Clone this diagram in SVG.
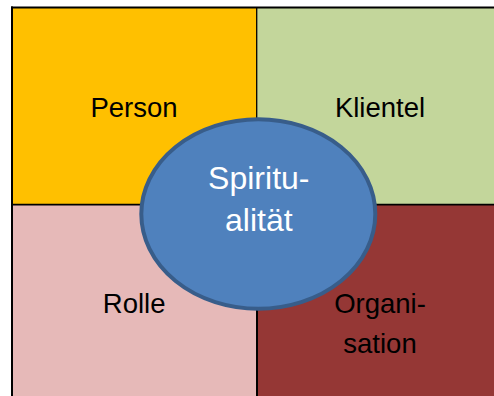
<svg xmlns="http://www.w3.org/2000/svg" width="494" height="396" viewBox="0 0 494 396">
<style>
.lbl{font-family:"Liberation Sans",Arial,sans-serif;font-size:27.5px;fill:#000;text-anchor:middle}
.ctr{font-family:"Liberation Sans",Arial,sans-serif;font-size:32px;fill:#fff;text-anchor:middle}
.ln{stroke:#000;fill:none}
</style>
<rect width="494" height="396" fill="#fff"/>
<g id="person">
<rect x="12" y="7.5" width="245" height="197.2" fill="#FFC000"/>
<text class="lbl" x="134" y="116.7">Person</text>
</g>
<g id="klientel">
<rect x="257" y="7.5" width="237" height="197.2" fill="#C3D69B"/>
<text class="lbl" x="380" y="116.7">Klientel</text>
</g>
<g id="rolle">
<rect x="12" y="204.7" width="245" height="191.3" fill="#E6B9B8"/>
<text class="lbl" x="134.2" y="313.3">Rolle</text>
</g>
<g id="organisation">
<rect x="257" y="204.7" width="237" height="191.3" fill="#953735"/>
<text class="lbl" x="380" y="313.3">Organi-</text>
<text class="lbl" x="380" y="352.7">sation</text>
</g>
<g id="grid">
<line class="ln" x1="12" y1="6.5" x2="12" y2="396" stroke-width="2"/>
<line class="ln" x1="11" y1="7.5" x2="494" y2="7.5" stroke-width="2"/>
<line class="ln" x1="256.7" y1="7.5" x2="256.7" y2="205" stroke-width="1.3"/>
<line class="ln" x1="257" y1="204" x2="257" y2="396" stroke-width="2"/>
<line class="ln" x1="12" y1="204.7" x2="494" y2="204.7" stroke-width="1.7"/>
</g>
<g id="spiritualitaet">
<ellipse cx="258.3" cy="214" rx="117" ry="94.7" fill="#4F81BD" stroke="#385D8A" stroke-width="4"/>
<text class="ctr" x="258.8" y="189.3">Spiritu-</text>
<text class="ctr" x="258.8" y="230.7">alität</text>
</g>
</svg>
